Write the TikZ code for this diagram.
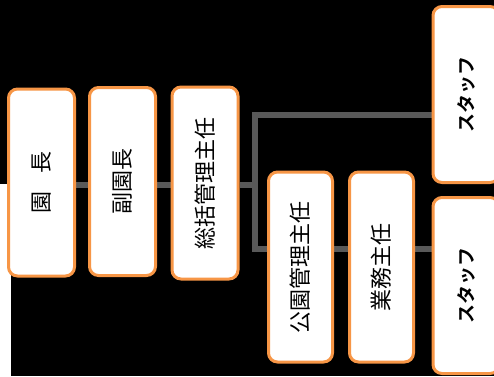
\documentclass[tikz,border=0pt]{standalone}
\usepackage{fontspec}
\setmainfont{Noto Sans CJK JP}
\newfontfamily\jpbold{Noto Sans CJK JP Bold}
\usetikzlibrary{calc}
\definecolor{boxorange}{HTML}{F79646}
\definecolor{conngray}{HTML}{595959}
\pgfdeclarelayer{back}
\pgfdeclarelayer{bg}
\pgfsetlayers{back,bg,main}
\begin{document}
\begin{tikzpicture}[x=1pt,y=-1pt,
  orgbox/.style={draw=boxorange, line width=3pt, fill=white, rounded corners=9pt,
    inner sep=0pt, minimum width=66pt, font=\fontsize{22}{22}\selectfont},
  staffbox/.style={orgbox, font=\jpbold\fontsize{19}{19}\selectfont},
  conn/.style={draw=conngray, line width=6pt}]
\useasboundingbox (0,0) rectangle (494,376);
\clip (0,0) rectangle (494,376);
\begin{pgfonlayer}{back}
\fill[black] (0,0) rectangle (494,376);
\fill[white] (0,184) rectangle (11,376);
\end{pgfonlayer}
\node[orgbox, minimum height=187pt] (a) at (41.5,182.5) {\rotatebox{90}{園\hspace{0.8em}長}};
\node[orgbox, minimum height=188pt] (b) at (122.5,181.5) {\rotatebox{90}{副園長}};
\node[orgbox, minimum height=192pt] (c) at (205,183) {\rotatebox{90}{総括管理主任}};
\node[orgbox, minimum height=190pt, minimum width=64pt] (d) at (300.5,267) {\rotatebox{90}{公園管理主任}};
\node[orgbox, minimum height=190pt, minimum width=64pt] (e) at (381.5,267) {\rotatebox{90}{業務主任}};
\node[staffbox, minimum height=176pt] (s1) at (466,94.5) {\rotatebox{90}{スタッフ}};
\node[staffbox, minimum height=176pt] (s2) at (466,285.5) {\rotatebox{90}{スタッフ}};
\coordinate (j) at (255,184.5);
\coordinate (jt) at (255,115);
\coordinate (jb) at (255,248.5);
\begin{pgfonlayer}{bg}
\draw[conn] (a.east |- j) -- (b.west |- j);
\draw[conn] (b.east |- j) -- (c.west |- j);
\draw[conn] (c.east |- j) -- (j);
\draw[conn] ([yshift=-3pt]jt) -- ([yshift=3pt]jb);
\draw[conn] ([xshift=-3pt]jt) -- (s1.west |- jt);
\draw[conn] ([xshift=-3pt]jb) -- (d.west |- jb);
\draw[conn] (d.east |- jb) -- (e.west |- jb);
\draw[conn] (e.east |- jb) -- (s2.west |- jb);
\end{pgfonlayer}
\end{tikzpicture}
\end{document}
